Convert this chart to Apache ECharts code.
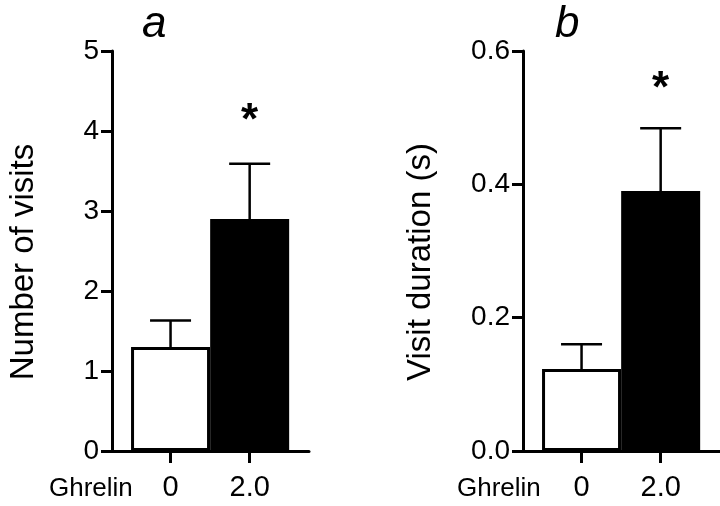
<!DOCTYPE html>
<html>
<head>
<meta charset="utf-8">
<script src="https://cdn.jsdelivr.net/npm/echarts@6/dist/echarts.min.js"></script>
<style>html,body{margin:0;padding:0;background:#fff}#c{width:720px;height:506px}</style>
</head>
<body>
<div id="c"></div>
<script>
const categories = ['0', '2.0'];
const groupLabel = 'Ghrelin';
const panelTitles = ['a', 'b'];
const yNames = ['Number of visits', 'Visit duration (s)'];
const visitsMean = [1.3, 2.9];
const visitsErr = [0.33, 0.69];
const durationMean = [0.123, 0.39];
const durationErr = [0.037, 0.094];
const visitsSig = [null, 4.22];
const durationSig = [null, 0.554];
const barColors = ['#ffffff', '#000000'];

const FONT = 'Liberation Sans, Arial, Helvetica, sans-serif';
const chart = echarts.init(document.getElementById('c'));

function xAxisFor(gi) {
  return {
    type: 'value', gridIndex: gi, min: -0.74, max: 1.75,
    axisLine: { show: true, onZero: false, lineStyle: { color: '#000', width: 3 } },
    axisTick: { show: true, customValues: [0, 1], length: 12, lineStyle: { color: '#000', width: 3 } },
    axisLabel: { customValues: [0, 1], margin: 22, color: '#000', fontSize: 29, fontFamily: FONT,
      formatter: v => categories[Math.round(v)] },
    splitLine: { show: false }
  };
}
function yAxisFor(gi, max, interval, digits, name, gap) {
  return {
    type: 'value', gridIndex: gi, min: 0, max: max, interval: interval,
    name: name, nameLocation: 'middle', nameGap: gap,
    nameTextStyle: { color: '#000', fontSize: 33, fontFamily: FONT, padding: [0, 22, 0, 0] },
    axisLine: { show: true, onZero: false, lineStyle: { color: '#000', width: 3 } },
    axisTick: { show: true, length: 11, lineStyle: { color: '#000', width: 3 } },
    axisLabel: { margin: 13, color: '#000', fontSize: 28, fontFamily: FONT,
      formatter: v => v.toFixed(digits) },
    splitLine: { show: false }
  };
}
function barSeries(gi, means) {
  return {
    type: 'bar', xAxisIndex: gi, yAxisIndex: gi, barWidth: 79,
    data: means.map((m, i) => ({ value: [i, m], itemStyle: { color: barColors[i], borderColor: '#000', borderWidth: 3 } }))
  };
}
function errSeries(gi, means, errs) {
  return {
    type: 'custom', xAxisIndex: gi, yAxisIndex: gi, z: 3,
    data: means.map((m, i) => [i, m, m + errs[i]]),
    renderItem: function (params, api) {
      const p0 = api.coord([api.value(0), api.value(1)]);
      const p1 = api.coord([api.value(0), api.value(2)]);
      const hw = 20.5;
      const st = { stroke: '#000', lineWidth: 2.5 };
      return { type: 'group', children: [
        { type: 'line', shape: { x1: p0[0], y1: p0[1], x2: p1[0], y2: p1[1] }, style: st },
        { type: 'line', shape: { x1: p1[0] - hw, y1: p1[1], x2: p1[0] + hw, y2: p1[1] }, style: st }
      ] };
    }
  };
}
function sigSeries(gi, sig) {
  return {
    type: 'custom', xAxisIndex: gi, yAxisIndex: gi, z: 4,
    data: sig.map((s, i) => s == null ? null : [i, s]).filter(d => d),
    renderItem: function (params, api) {
      const p = api.coord([api.value(0), api.value(1)]);
      return { type: 'text', x: p[0], y: p[1] + 8, style: { text: '*', fill: '#000', font: 'bold 44px ' + FONT, align: 'center', verticalAlign: 'middle' } };
    }
  };
}

chart.setOption({
  animation: false,
  backgroundColor: '#fff',
  title: [
    { text: panelTitles[0], left: 137, top: -2, textStyle: { fontSize: 44, fontStyle: 'italic', fontWeight: 'normal', color: '#000', fontFamily: FONT } },
    { text: panelTitles[1], left: 550, top: -2, textStyle: { fontSize: 44, fontStyle: 'italic', fontWeight: 'normal', color: '#000', fontFamily: FONT } },
    { text: groupLabel, left: 44, top: 471, textStyle: { fontSize: 26, fontWeight: 'normal', color: '#000', fontFamily: FONT } },
    { text: groupLabel, left: 452, top: 471, textStyle: { fontSize: 26, fontWeight: 'normal', color: '#000', fontFamily: FONT } }
  ],
  grid: [
    { left: 112, top: 51, width: 197, height: 400 },
    { left: 523, top: 51, width: 197, height: 400 }
  ],
  xAxis: [xAxisFor(0), xAxisFor(1)],
  yAxis: [
    yAxisFor(0, 5, 1, 0, yNames[0], 72),
    yAxisFor(1, 0.6, 0.2, 1, yNames[1], 86)
  ],
  series: [
    barSeries(0, visitsMean), errSeries(0, visitsMean, visitsErr), sigSeries(0, visitsSig),
    barSeries(1, durationMean), errSeries(1, durationMean, durationErr), sigSeries(1, durationSig)
  ]
});
</script>
</body>
</html>
